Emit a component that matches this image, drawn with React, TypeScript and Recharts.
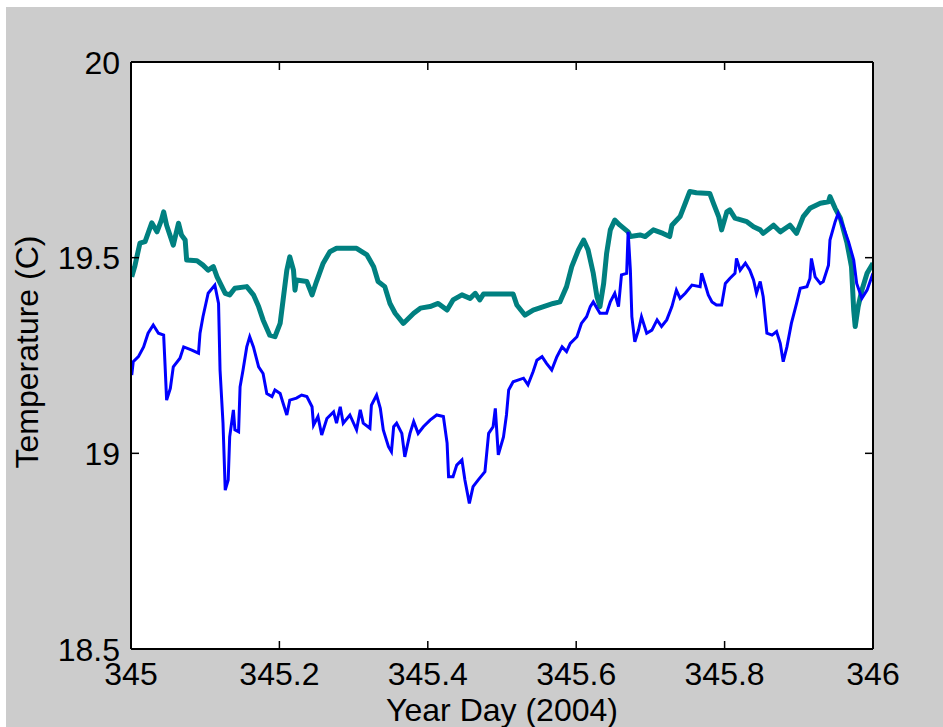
import React from "react";
import { LineChart, Line, XAxis, YAxis, CartesianGrid } from "recharts";

const tealDays = [345.001,345.005,345.012,345.019,345.028,345.035,345.041,345.044,345.048,345.057,345.064,345.068,345.073,345.075,345.089,345.097,345.104,345.111,345.116,345.127,345.133,345.140,345.156,345.165,345.172,345.178,345.187,345.194,345.201,345.205,345.210,345.214,345.219,345.221,345.223,345.237,345.244,345.250,345.259,345.268,345.277,345.304,345.318,345.327,345.333,345.342,345.349,345.356,345.367,345.381,345.390,345.403,345.414,345.426,345.434,345.446,345.457,345.464,345.470,345.475,345.515,345.520,345.531,345.542,345.556,345.569,345.578,345.587,345.594,345.603,345.610,345.616,345.623,345.628,345.632,345.637,345.641,345.646,345.652,345.659,345.670,345.673,345.686,345.693,345.704,345.717,345.726,345.729,345.740,345.747,345.753,345.762,345.780,345.785,345.792,345.796,345.803,345.807,345.814,345.830,345.839,345.848,345.852,345.866,345.875,345.888,345.897,345.906,345.915,345.929,345.940,345.942,345.949,345.956,345.965,345.971,345.974,345.976,345.980,345.985,345.992,346.000];
const tealTemps = [19.451,19.477,19.537,19.541,19.589,19.566,19.596,19.617,19.583,19.532,19.588,19.558,19.545,19.494,19.492,19.481,19.468,19.477,19.451,19.409,19.405,19.422,19.426,19.405,19.375,19.341,19.302,19.298,19.332,19.392,19.468,19.502,19.468,19.417,19.443,19.439,19.405,19.439,19.486,19.515,19.524,19.524,19.507,19.477,19.439,19.426,19.383,19.358,19.332,19.358,19.371,19.375,19.383,19.366,19.392,19.405,19.396,19.409,19.392,19.407,19.407,19.379,19.353,19.366,19.375,19.383,19.387,19.426,19.477,19.520,19.545,19.520,19.460,19.400,19.375,19.434,19.511,19.571,19.596,19.583,19.566,19.554,19.558,19.554,19.571,19.562,19.554,19.583,19.605,19.639,19.669,19.666,19.664,19.639,19.605,19.571,19.617,19.622,19.601,19.592,19.579,19.571,19.562,19.583,19.566,19.583,19.562,19.605,19.626,19.639,19.643,19.656,19.626,19.601,19.537,19.477,19.366,19.324,19.375,19.417,19.460,19.486];

const blueDays = [345.001,345.003,345.010,345.017,345.023,345.030,345.037,345.044,345.046,345.048,345.053,345.057,345.066,345.071,345.082,345.091,345.093,345.097,345.104,345.113,345.118,345.120,345.124,345.127,345.131,345.133,345.138,345.140,345.145,345.147,345.151,345.156,345.160,345.165,345.172,345.178,345.183,345.190,345.194,345.201,345.205,345.210,345.214,345.223,345.230,345.237,345.244,345.246,345.252,345.257,345.264,345.273,345.277,345.282,345.286,345.295,345.304,345.309,345.313,345.322,345.324,345.331,345.336,345.340,345.347,345.351,345.354,345.358,345.365,345.369,345.376,345.381,345.387,345.394,345.403,345.412,345.421,345.426,345.428,345.434,345.439,345.446,345.450,345.456,345.461,345.468,345.477,345.482,345.488,345.491,345.495,345.502,345.506,345.509,345.515,345.529,345.535,345.542,345.547,345.554,345.560,345.567,345.574,345.581,345.587,345.592,345.601,345.607,345.614,345.619,345.623,345.632,345.641,345.646,345.652,345.657,345.661,345.668,345.670,345.673,345.675,345.679,345.684,345.688,345.695,345.702,345.709,345.715,345.722,345.729,345.735,345.740,345.747,345.756,345.767,345.769,345.774,345.778,345.783,345.789,345.796,345.801,345.807,345.814,345.816,345.821,345.828,345.834,345.839,345.843,345.848,345.852,345.857,345.864,345.870,345.875,345.879,345.884,345.890,345.897,345.902,345.911,345.915,345.917,345.922,345.929,345.933,345.940,345.942,345.949,345.953,345.960,345.967,345.974,345.978,345.985,345.992,346.000];
const blueTemps = [19.200,19.234,19.247,19.272,19.307,19.328,19.307,19.302,19.221,19.136,19.166,19.221,19.243,19.272,19.264,19.256,19.307,19.349,19.409,19.430,19.383,19.213,19.077,18.906,18.932,19.042,19.111,19.060,19.055,19.170,19.213,19.272,19.298,19.272,19.221,19.204,19.153,19.145,19.162,19.153,19.128,19.098,19.136,19.141,19.149,19.145,19.119,19.072,19.094,19.047,19.089,19.106,19.077,19.119,19.077,19.098,19.060,19.111,19.077,19.064,19.123,19.149,19.115,19.060,19.017,19.004,19.068,19.077,19.051,18.991,19.051,19.081,19.051,19.068,19.085,19.098,19.094,19.026,18.940,18.940,18.970,18.983,18.932,18.872,18.915,18.932,18.953,19.051,19.068,19.115,18.996,19.042,19.098,19.162,19.183,19.192,19.175,19.209,19.238,19.247,19.230,19.213,19.247,19.272,19.260,19.281,19.298,19.332,19.349,19.375,19.387,19.358,19.358,19.387,19.409,19.375,19.456,19.460,19.566,19.468,19.349,19.285,19.315,19.349,19.307,19.315,19.341,19.324,19.341,19.375,19.417,19.396,19.409,19.430,19.426,19.460,19.430,19.405,19.387,19.379,19.379,19.434,19.447,19.460,19.498,19.468,19.486,19.468,19.443,19.409,19.439,19.400,19.307,19.302,19.311,19.281,19.234,19.272,19.332,19.383,19.422,19.426,19.447,19.498,19.451,19.434,19.439,19.481,19.545,19.592,19.613,19.579,19.541,19.494,19.434,19.396,19.417,19.460];

const xTicks = [345, 345.2, 345.4, 345.6, 345.8, 346];
const xTickLabels = ["345", "345.2", "345.4", "345.6", "345.8", "346"];
const yTicks = [18.5, 19, 19.5, 20];
const yTickLabels = ["18.5", "19", "19.5", "20"];

const tealData = tealDays.map((d, i) => ({ day: d, temp: tealTemps[i] }));
const blueData = blueDays.map((d, i) => ({ day: d, temp: blueTemps[i] }));

const FONT = "'Liberation Sans', Arial, Helvetica, sans-serif";
const TICK = 8;

const BottomTick = (props: any) => {
  const { x, y, payload } = props;
  const i = xTicks.indexOf(payload.value);
  return (
    <g>
      <line x1={x} y1={y} x2={x} y2={y - TICK} stroke="#000" strokeWidth={1.5} />
      <text x={x} y={y + 36} textAnchor="middle" fontSize={32} fontFamily={FONT} fill="#000">
        {i >= 0 ? xTickLabels[i] : payload.value}
      </text>
    </g>
  );
};

const TopTick = (props: any) => {
  const { x, y } = props;
  return <line x1={x} y1={y} x2={x} y2={y + TICK} stroke="#000" strokeWidth={1.5} />;
};

const LeftTick = (props: any) => {
  const { x, y, payload } = props;
  const i = yTicks.indexOf(payload.value);
  return (
    <g>
      <line x1={x} y1={y} x2={x + TICK} y2={y} stroke="#000" strokeWidth={1.5} />
      <text x={x - 11} y={y + 11.5} textAnchor="end" fontSize={32} fontFamily={FONT} fill="#000">
        {i >= 0 ? yTickLabels[i] : payload.value}
      </text>
    </g>
  );
};

const RightTick = (props: any) => {
  const { x, y } = props;
  return <line x1={x} y1={y} x2={x - TICK} y2={y} stroke="#000" strokeWidth={1.5} />;
};

export default function App() {
  return (
    <div style={{ position: "absolute", left: 0, top: 0, width: 943, height: 727, background: "#fff", overflow: "hidden" }}>
      <div style={{ position: "absolute", left: 6, top: 7, width: 937, height: 720, background: "#cccccc" }} />
      <div style={{ position: "absolute", left: 0, top: 0 }}>
        <LineChart width={943} height={727} margin={{ top: 52, right: 60, bottom: 18, left: 31 }}>
          <CartesianGrid fill="#fff" horizontal={false} vertical={false} stroke="none" xAxisId="b" yAxisId="l" />
          <XAxis xAxisId="b" type="number" dataKey="day" domain={[345, 346]} ticks={xTicks} allowDataOverflow
            orientation="bottom" height={60} tickSize={0} tickMargin={0} tick={<BottomTick />} tickLine={false}
            axisLine={{ stroke: "#000", strokeWidth: 2 }} interval={0} />
          <XAxis xAxisId="t" type="number" dataKey="day" domain={[345, 346]} ticks={xTicks} allowDataOverflow
            orientation="top" height={10} tickSize={0} tickMargin={0} tick={<TopTick />} tickLine={false}
            axisLine={{ stroke: "#000", strokeWidth: 2 }} interval={0} />
          <YAxis yAxisId="l" type="number" domain={[18.5, 20]} ticks={yTicks} allowDataOverflow
            orientation="left" width={100} tickSize={0} tickMargin={0} tick={<LeftTick />} tickLine={false}
            axisLine={{ stroke: "#000", strokeWidth: 2 }} interval={0} />
          <YAxis yAxisId="r" type="number" domain={[18.5, 20]} ticks={yTicks} allowDataOverflow
            orientation="right" width={10} tickSize={0} tickMargin={0} tick={<RightTick />} tickLine={false}
            axisLine={{ stroke: "#000", strokeWidth: 2 }} interval={0} />
          <Line xAxisId="b" yAxisId="l" data={tealData} dataKey="temp" type="linear" stroke="#008080"
            strokeWidth={5} dot={false} isAnimationActive={false} strokeLinejoin="round" />
          <Line xAxisId="b" yAxisId="l" data={blueData} dataKey="temp" type="linear" stroke="#0000ff"
            strokeWidth={3} dot={false} isAnimationActive={false} />
        </LineChart>
      </div>
      <svg width={943} height={727} style={{ position: "absolute", left: 0, top: 0, pointerEvents: "none" }}>
        <text x={502} y={721} textAnchor="middle" fontSize={32} fontFamily={FONT} fill="#000">Year Day (2004)</text>
        <text x={38} y={352} textAnchor="middle" fontSize={32} fontFamily={FONT} fill="#000" transform="rotate(-90, 38, 352)">Temperature (C)</text>
      </svg>
    </div>
  );
}
